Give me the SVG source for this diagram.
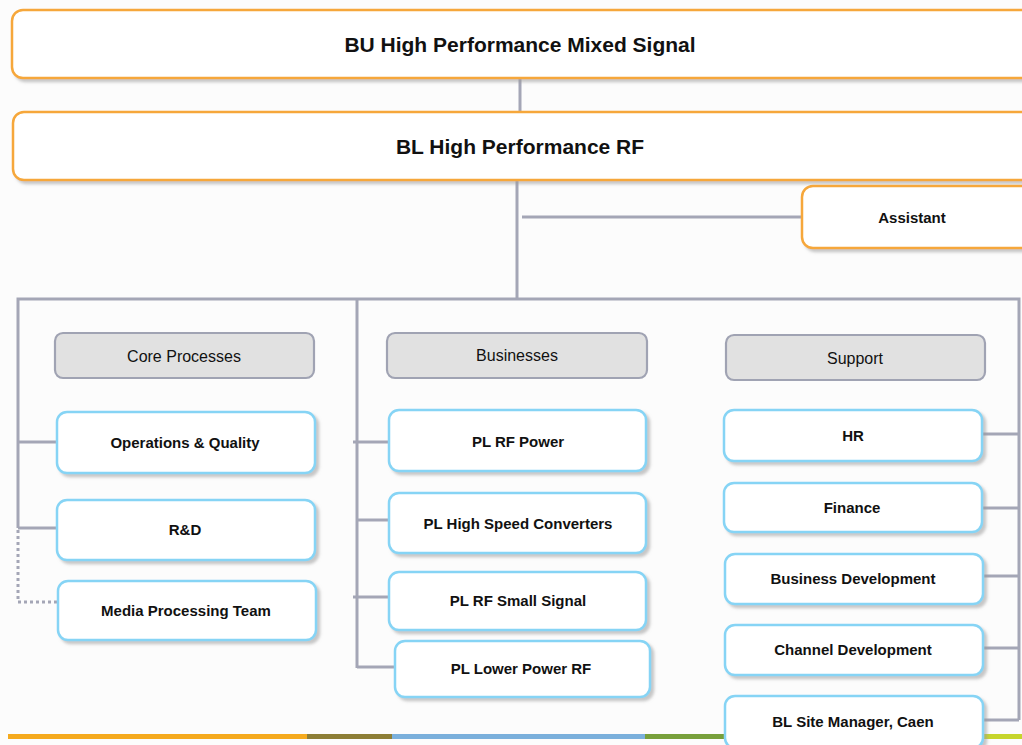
<svg xmlns="http://www.w3.org/2000/svg" width="1022" height="745" viewBox="0 0 1022 745">
<defs>
<filter id="sh" x="-5%" y="-10%" width="115%" height="130%">
<feDropShadow dx="3" dy="3" stdDeviation="1.5" flood-color="#9a9a9a" flood-opacity="0.55"/>
</filter>
<style>
.top{fill:#ffffff;stroke:#f6a73a;stroke-width:2.5;filter:url(#sh)}
.hdr{fill:#e1e1e1;stroke:#a0a3b3;stroke-width:2.2}
.box{fill:#ffffff;stroke:#86d4f5;stroke-width:2.5;filter:url(#sh)}
.conn{stroke:#a4a6b6;stroke-width:3;fill:none}
.dot{stroke:#a4a6b6;stroke-width:3;fill:none;stroke-dasharray:3 3}
.t1{font-family:"Liberation Sans",Arial,sans-serif;font-weight:bold;font-size:21px;fill:#111;text-anchor:middle;dominant-baseline:central}
.t2{font-family:"Liberation Sans",Arial,sans-serif;font-weight:bold;font-size:15px;fill:#111;text-anchor:middle;dominant-baseline:central}
.t3{font-family:"Liberation Sans",Arial,sans-serif;font-size:16px;fill:#111;text-anchor:middle;dominant-baseline:central}
</style>
</defs>
<rect x="0" y="0" width="1022" height="745" fill="#fcfcfc"/>

<g id="connectors">
<line class="conn" x1="520" y1="78" x2="520" y2="112"/>
<line class="conn" x1="517" y1="180" x2="517" y2="299"/>
<line class="conn" x1="522" y1="217" x2="802" y2="217"/>
<polyline class="conn" points="18,528 18,299 1019,299 1019,720"/>
<line class="conn" x1="18" y1="442" x2="57" y2="442"/>
<line class="conn" x1="18" y1="528" x2="57" y2="528"/>
<polyline class="dot" points="18,530 18,602 57,602"/>
<line class="conn" x1="357" y1="299" x2="357" y2="668"/>
<line class="conn" x1="353" y1="442" x2="389" y2="442"/>
<line class="conn" x1="357" y1="520" x2="389" y2="520"/>
<line class="conn" x1="353" y1="597" x2="390" y2="597"/>
<line class="conn" x1="357" y1="667" x2="395" y2="667"/>
<line class="conn" x1="982" y1="434" x2="1019" y2="434"/>
<line class="conn" x1="982" y1="508" x2="1019" y2="508"/>
<line class="conn" x1="983" y1="576" x2="1019" y2="576"/>
<line class="conn" x1="983" y1="648" x2="1019" y2="648"/>
<line class="conn" x1="983" y1="720" x2="1019" y2="720"/>
</g>

<g id="bar">
<rect x="8" y="734" width="299" height="5" fill="#f5aa1e"/>
<rect x="307" y="734" width="85" height="5" fill="#8d7e36"/>
<rect x="392" y="734" width="253" height="5" fill="#7bb0dc"/>
<rect x="645" y="734" width="215" height="5" fill="#78a03c"/>
<rect x="860" y="734" width="162" height="5" fill="#c6d52c"/>
</g>

<g id="bu"><rect class="top" x="12" y="10" width="1030" height="68" rx="11"/><text class="t1" x="520" y="44">BU High Performance Mixed Signal</text></g>
<g id="bl"><rect class="top" x="13" y="112" width="1030" height="68" rx="11"/><text class="t1" x="520" y="146">BL High Performance RF</text></g>
<g id="assistant"><rect class="top" x="802" y="186" width="240" height="62" rx="11"/><text class="t2" x="912" y="217">Assistant</text></g>

<g id="core"><rect class="hdr" x="55" y="333" width="259" height="45" rx="8"/><text class="t3" x="184" y="356">Core Processes</text></g>
<g id="businesses"><rect class="hdr" x="387" y="333" width="260" height="45" rx="8"/><text class="t3" x="517" y="355">Businesses</text></g>
<g id="support"><rect class="hdr" x="726" y="335" width="259" height="45" rx="8"/><text class="t3" x="855" y="358">Support</text></g>

<g id="ops"><rect class="box" x="57" y="412" width="258" height="61" rx="10"/><text class="t2" x="185" y="442">Operations &amp; Quality</text></g>
<g id="rd"><rect class="box" x="57" y="500" width="258" height="60" rx="10"/><text class="t2" x="185" y="529">R&amp;D</text></g>
<g id="media"><rect class="box" x="58" y="581" width="258" height="59" rx="10"/><text class="t2" x="186" y="610">Media Processing Team</text></g>

<g id="rfpower"><rect class="box" x="389" y="410" width="257" height="61" rx="10"/><text class="t2" x="518" y="441">PL RF Power</text></g>
<g id="hsc"><rect class="box" x="389" y="493" width="257" height="60" rx="10"/><text class="t2" x="518" y="523">PL High Speed Converters</text></g>
<g id="rfsmall"><rect class="box" x="389" y="572" width="257" height="58" rx="10"/><text class="t2" x="518" y="600">PL RF Small Signal</text></g>
<g id="lowpower"><rect class="box" x="395" y="641" width="255" height="56" rx="10"/><text class="t2" x="521" y="668">PL Lower Power RF</text></g>

<g id="hr"><rect class="box" x="724" y="410" width="258" height="51" rx="10"/><text class="t2" x="853" y="435">HR</text></g>
<g id="finance"><rect class="box" x="724" y="483" width="258" height="49" rx="10"/><text class="t2" x="852" y="507">Finance</text></g>
<g id="bizdev"><rect class="box" x="725" y="554" width="258" height="50" rx="10"/><text class="t2" x="853" y="578">Business Development</text></g>
<g id="chandev"><rect class="box" x="725" y="625" width="258" height="50" rx="10"/><text class="t2" x="853" y="649">Channel Development</text></g>
<g id="site"><rect class="box" x="725" y="696" width="258" height="52" rx="10"/><text class="t2" x="853" y="721">BL Site Manager, Caen</text></g>
</svg>
